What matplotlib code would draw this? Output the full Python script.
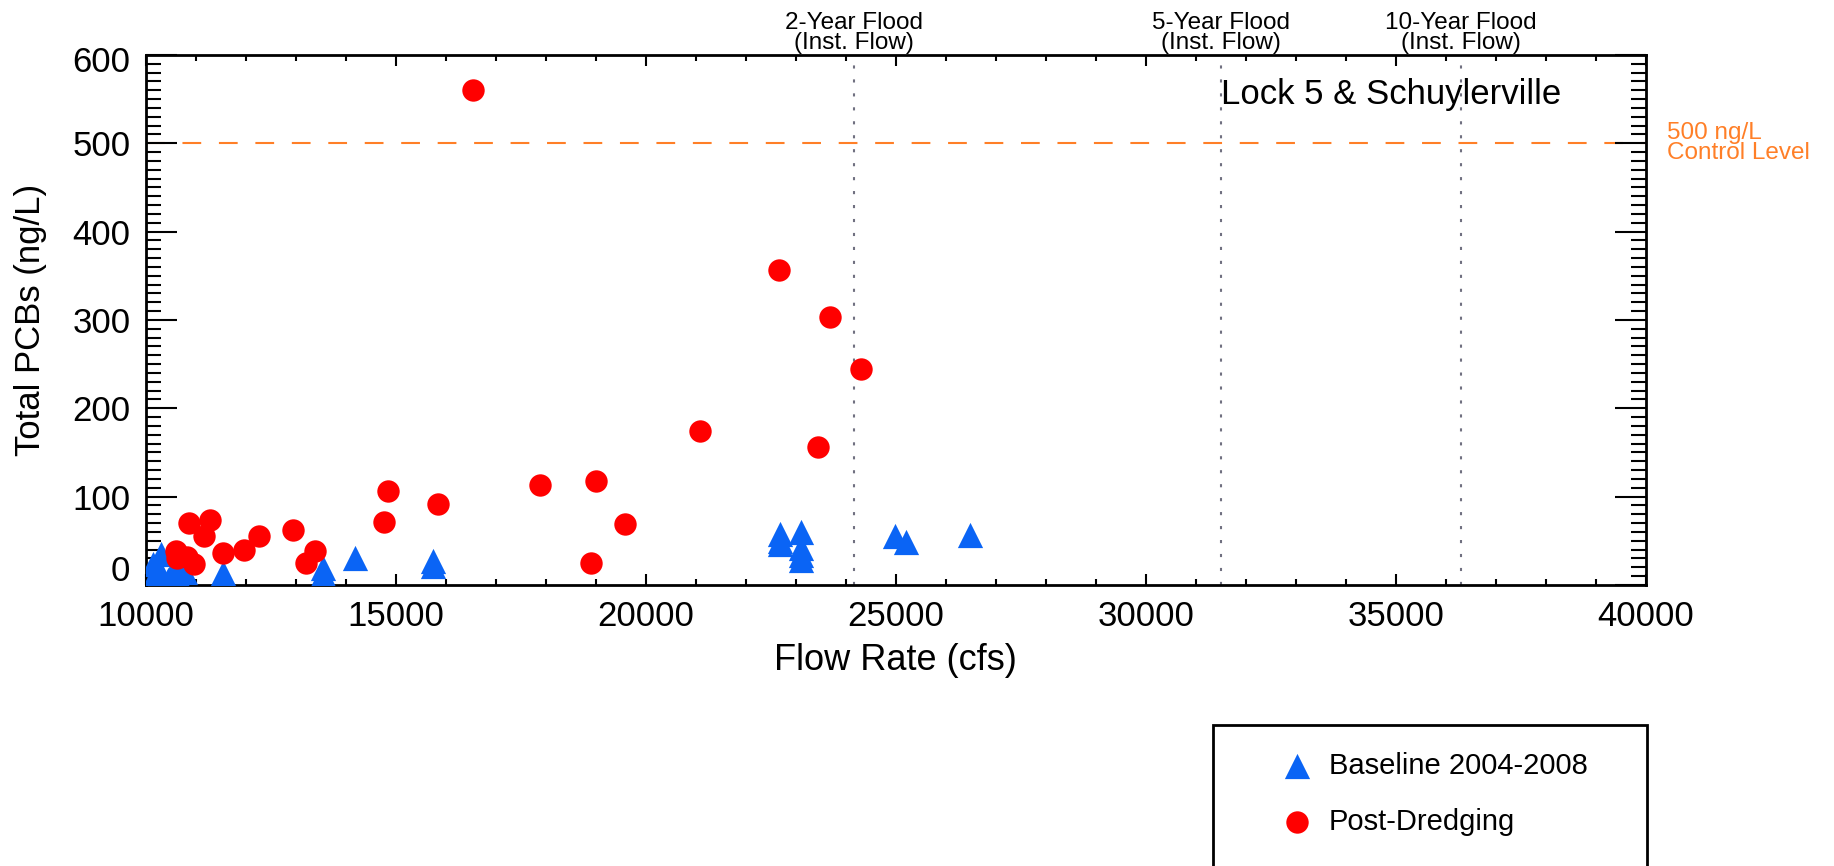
import matplotlib

matplotlib.use("Agg")
import matplotlib.pyplot as plt
from matplotlib.patches import Rectangle
from matplotlib.ticker import MultipleLocator
from matplotlib.transforms import ScaledTranslation

plt.rcParams["font.family"] = ["Liberation Sans", "DejaVu Sans"]

# Baseline 2004-2008 (flow cfs, total PCBs ng/L)
base_flow = [10150, 10150, 10200, 10300, 10300, 10450, 10520, 10650, 10790,
             11550, 13550, 13550, 14190, 15750, 15750,
             22690, 22690, 22690, 23110, 23110, 23110, 23110,
             24990, 25210, 26490]
base_pcb = [8, 24, 3, 35, 12, 6, 13, 10, 15,
            13, 19, 12, 31, 27, 21,
            58, 50, 46, 60, 42, 34, 28,
            56, 49, 57]

# Post-dredging
post_flow = [10610, 10630, 10830, 10970, 10870, 11290, 11170, 11550, 11970,
             12270, 12950, 13200, 13390, 14770, 14840, 15850, 17890, 19010,
             19590, 18910, 21090, 22670, 23690, 24310, 23450, 16550]
post_pcb = [38, 30, 32, 24, 70, 74, 55, 36, 40,
            55, 62, 25, 39, 71, 106, 92, 113, 118,
            69, 25, 174, 357, 303, 245, 156, 560]

y_ticks = [0, 100, 200, 300, 400, 500, 600]
flood_flows = [24170, 31500, 36300]
flood_labels = ["2-Year Flood\n(Inst. Flow)", "5-Year Flood\n(Inst. Flow)",
                "10-Year Flood\n(Inst. Flow)"]
control_level = 500

BLUE = "#0a64f5"
RED = "#ff0000"
ORANGE = "#ff7f27"
TICK_FS = 25
TICK_PAD = 11

fig = plt.figure(figsize=(18.34, 8.66), dpi=100)
ax = fig.add_axes([0.0794, 0.3245, 0.8179, 0.612])

ax.axhline(control_level, color=ORANGE, lw=1.5, dashes=(9, 8.5), zorder=1)
for xf in flood_flows:
    ax.axvline(xf, color="#707080", lw=1.5, dashes=(1.5, 5.2), zorder=1)

ax.scatter(base_flow, base_pcb, marker="^", s=330, color=BLUE, linewidths=0,
           zorder=3, label="Baseline 2004-2008")
ax.scatter(post_flow, post_pcb, marker="o", s=260, color=RED, linewidths=0,
           zorder=4, label="Post-Dredging")

ax.set_xlim(10000, 40000)
ax.set_ylim(0, 600)
ax.xaxis.set_major_locator(MultipleLocator(5000))
ax.xaxis.set_minor_locator(MultipleLocator(1000))
ax.yaxis.set_minor_locator(MultipleLocator(10))
# end labels are drawn separately, nudged inward like the original
ax.set_yticks(y_ticks, [""] + [str(v) for v in y_ticks[1:-1]] + [""])
ax.tick_params(axis="both", which="both", direction="in", top=True, right=True,
               width=1.5, labelsize=TICK_FS, pad=TICK_PAD)
ax.tick_params(axis="x", which="major", length=8)
ax.tick_params(axis="x", which="minor", length=4)
ax.tick_params(axis="y", which="major", length=22)
ax.tick_params(axis="y", which="minor", length=11)
for sp in ax.spines.values():
    sp.set_linewidth(2)

for val, dy in [(y_ticks[0], 0.13), (y_ticks[-1], -0.08)]:
    off = ScaledTranslation(-TICK_PAD / 72, dy, fig.dpi_scale_trans)
    ax.text(0, val, str(val), transform=ax.get_yaxis_transform() + off,
            ha="right", va="center", fontsize=TICK_FS)

ax.set_xlabel("Flow Rate (cfs)", fontsize=26)
ax.set_ylabel("Total PCBs (ng/L)", fontsize=25)
ax.xaxis.set_label_coords(0.5, -0.11)
ax.yaxis.set_label_coords(-0.066, 0.5)

ax.text(0.83, 0.926, "Lock 5 & Schuylerville", transform=ax.transAxes,
        ha="center", va="center", fontsize=25)

for xf, lab in zip(flood_flows, flood_labels):
    ax.text(xf, 1.002, lab, transform=ax.get_xaxis_transform(), ha="center",
            va="bottom", fontsize=17.5, linespacing=0.88)

ax.text(1.014, control_level, "500 ng/L\nControl Level",
        transform=ax.get_yaxis_transform(), ha="left", va="center",
        fontsize=17.5, color=ORANGE, linespacing=0.9)

fig.patches.append(Rectangle((1213 / 1834, -0.01), 434 / 1834, 0.173,
                             transform=fig.transFigure, fill=False,
                             lw=2, edgecolor="black"))
fig.legend(loc="upper left", bbox_to_anchor=(1282 / 1834, 1 - 752 / 866),
           frameon=False, scatterpoints=1, handlelength=1,
           handletextpad=0.6, labelspacing=0.95, borderpad=0,
           borderaxespad=0, prop={"size": 21})

fig.savefig("out.png", dpi=100, facecolor="white")
